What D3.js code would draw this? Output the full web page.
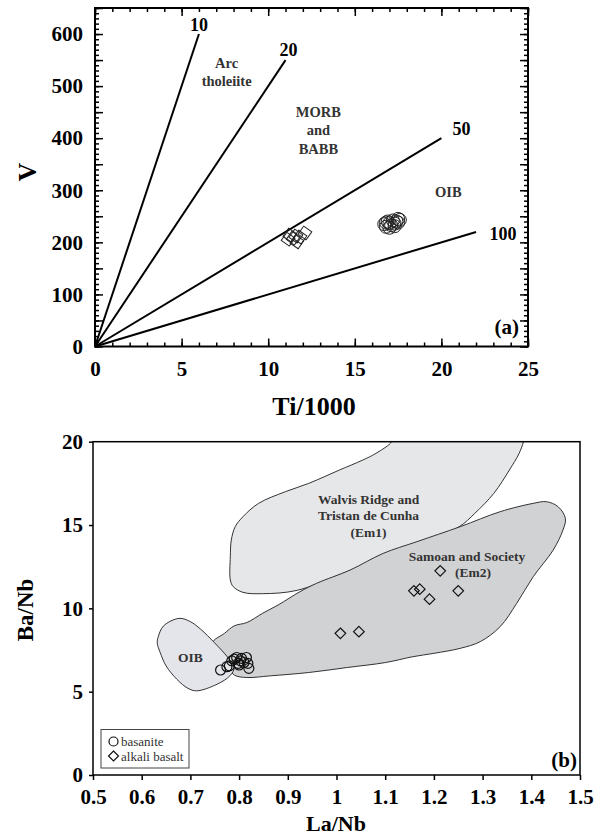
<!DOCTYPE html>
<html>
<head>
<meta charset="utf-8">
<script src="https://cdn.jsdelivr.net/npm/d3@7"></script>
<style>
  body { margin: 0; background: #fff; }
  svg, svg text { font-family: "Liberation Serif", "Times New Roman", serif; }
</style>
</head>
<body>
<div id="chart"></div>
<script>
// ---- data (a) V vs Ti/1000 ----
const ratioValues = [10, 20, 50, 100];      // Ti/V
const ratioEndTi = [6, 11, 20, 22];          // where each line stops
const basaniteTi = [16.7, 16.8, 16.9, 17.0, 17.1, 17.2, 17.3, 17.4, 17.5, 17.6, 17.0, 17.3, 16.8, 17.5];
const basaniteV  = [235, 230, 240, 237, 233, 242, 236, 240, 245, 243, 228, 231, 238, 238];
const alkaliTi = [11.15, 11.44, 11.83, 12.12, 11.66, 11.25, 11.6];
const alkaliV  = [206, 208, 210, 218, 201, 214, 212];

// ---- data (b) Ba/Nb vs La/Nb ----
const basaniteLaNb = [0.762, 0.775, 0.780, 0.785, 0.790, 0.795, 0.798, 0.800, 0.803, 0.805, 0.810, 0.815, 0.818, 0.820];
const basaniteBaNb = [6.30, 6.50, 6.55, 6.85, 6.95, 7.05, 6.70, 6.60, 6.85, 7.00, 6.75, 7.05, 6.70, 6.40];
const alkaliLaNb = [1.008, 1.046, 1.159, 1.171, 1.191, 1.213, 1.250];
const alkaliBaNb = [8.50, 8.60, 11.05, 11.15, 10.55, 12.25, 11.05];

const em1Outline = [[1.113, 20.3], [1.113, 20.0], [1.081, 19.3], [1.054, 18.9], [1.006, 18.3], [0.943, 17.5],
  [0.895, 17.0], [0.840, 16.3], [0.808, 15.5], [0.792, 14.9], [0.784, 14.1], [0.782, 13.1], [0.782, 11.7],
  [0.788, 11.3], [0.808, 10.96], [0.848, 10.88], [0.919, 11.08], [1.022, 12.2], [1.181, 14.0], [1.252, 14.9],
  [1.284, 15.7], [1.323, 16.9], [1.355, 18.3], [1.375, 19.3], [1.384, 20.0], [1.386, 20.3]];
const em2Outline = [[0.745, 7.9], [0.770, 8.5], [0.790, 8.95], [0.816, 9.15], [0.848, 9.7], [0.880, 10.2],
  [0.925, 11.0], [0.959, 11.5], [1.028, 12.3], [1.096, 13.3], [1.165, 14.0], [1.254, 14.9], [1.336, 15.8],
  [1.404, 16.3], [1.431, 16.4], [1.455, 16.1], [1.470, 15.4], [1.465, 14.7], [1.445, 13.5], [1.404, 11.9],
  [1.370, 10.3], [1.336, 8.9], [1.295, 8.0], [1.254, 7.6], [1.200, 7.3], [1.157, 7.1], [1.101, 6.75],
  [1.022, 6.45], [0.943, 6.15], [0.864, 5.95], [0.816, 5.85], [0.790, 6.0], [0.775, 6.6]];
const oibOutline = [[0.634, 8.3], [0.645, 8.95], [0.677, 9.4], [0.700, 9.2], [0.721, 8.75], [0.749, 7.95],
  [0.777, 7.05], [0.790, 6.45], [0.781, 5.95], [0.755, 5.45], [0.713, 5.05], [0.695, 5.2], [0.672, 5.75],
  [0.650, 6.55], [0.638, 7.35], [0.632, 7.9]];

const xTicksA = [0, 5, 10, 15, 20, 25];
const yTicksA = [0, 100, 200, 300, 400, 500, 600];
const xTicksB = [0.5, 0.6, 0.7, 0.8, 0.9, 1.0, 1.1, 1.2, 1.3, 1.4, 1.5];
const yTicksB = [0, 5, 10, 15, 20];

const W = 606, H = 836;
const FONT = '"Liberation Serif", "Times New Roman", serif';
const svg = d3.select("#chart").append("svg")
  .attr("width", W).attr("height", H);

// diamond path
const diamond = r => `M0,${-r}L${r},0L0,${r}L${-r},0Z`;

// =================== panel (a) ===================
const xA = d3.scaleLinear().domain([0, 25]).range([95, 528]);
const yA = d3.scaleLinear().domain([0, 650]).range([346.5, 8]);
const gA = svg.append("g");

function styleAxis(g, size) {
  g.attr("font-family", FONT);
  g.select(".domain").remove();
  g.selectAll("line").attr("stroke", "#000").attr("stroke-width", 1.5);
  g.selectAll("text").attr("font-family", FONT).attr("font-size", size)
    .attr("font-weight", "bold").attr("fill", "#000");
}

// minor ticks, all four sides, pointing inward
gA.append("g").attr("transform", `translate(0,${yA(0)})`)
  .call(d3.axisBottom(xA).tickValues(d3.range(0, 26, 1)).tickSize(-4).tickFormat(""))
  .call(g => styleAxis(g, 0));
gA.append("g").attr("transform", `translate(0,${yA(650)})`)
  .call(d3.axisTop(xA).tickValues(d3.range(0, 26, 1)).tickSize(-4).tickFormat(""))
  .call(g => styleAxis(g, 0));
gA.append("g").attr("transform", `translate(0,${yA(0)})`)
  .call(d3.axisBottom(xA).tickValues(xTicksA).tickSize(-8).tickPadding(15))
  .call(g => styleAxis(g, 21));
gA.append("g").attr("transform", `translate(0,${yA(650)})`)
  .call(d3.axisTop(xA).tickValues(xTicksA).tickSize(-8).tickFormat(""))
  .call(g => styleAxis(g, 0));

gA.append("g").attr("transform", `translate(${xA(0)},0)`)
  .call(d3.axisLeft(yA).tickValues(d3.range(0, 651, 10)).tickSize(-4).tickFormat(""))
  .call(g => styleAxis(g, 0));
gA.append("g").attr("transform", `translate(${xA(25)},0)`)
  .call(d3.axisRight(yA).tickValues(d3.range(0, 651, 10)).tickSize(-4).tickFormat(""))
  .call(g => styleAxis(g, 0));
gA.append("g").attr("transform", `translate(${xA(0)},0)`)
  .call(d3.axisLeft(yA).tickValues(d3.range(0, 651, 50)).tickSize(-8).tickFormat(""))
  .call(g => styleAxis(g, 0));
gA.append("g").attr("transform", `translate(${xA(25)},0)`)
  .call(d3.axisRight(yA).tickValues(d3.range(0, 651, 50)).tickSize(-8).tickFormat(""))
  .call(g => styleAxis(g, 0));
gA.append("g").attr("transform", `translate(${xA(0)},0)`)
  .call(d3.axisLeft(yA).tickValues(yTicksA).tickSize(0).tickPadding(12))
  .call(g => styleAxis(g, 21));

gA.append("rect")
  .attr("x", xA(0)).attr("y", yA(650))
  .attr("width", xA(25) - xA(0)).attr("height", yA(0) - yA(650))
  .attr("fill", "none").attr("stroke", "#000").attr("stroke-width", 2);

// Ti/V ratio lines
gA.selectAll(".ratio").data(ratioValues).join("line")
  .attr("x1", xA(0)).attr("y1", yA(0))
  .attr("x2", (d, i) => xA(ratioEndTi[i]))
  .attr("y2", (d, i) => yA(ratioEndTi[i] * 1000 / d))
  .attr("stroke", "#000").attr("stroke-width", 2);

const ratioLabelOffset = [[0, -9], [3, -10], [20, -9], [27, 2]];
gA.selectAll(".rlab").data(ratioValues).join("text")
  .attr("x", (d, i) => xA(ratioEndTi[i]) + ratioLabelOffset[i][0])
  .attr("y", (d, i) => yA(ratioEndTi[i] * 1000 / d) + ratioLabelOffset[i][1])
  .attr("text-anchor", "middle").attr("dy", "0.35em")
  .attr("font-size", 18).attr("font-weight", "bold")
  .text(d => d);

// field names
const fieldA = gA.append("g").attr("font-size", 14.5).attr("font-weight", "bold")
  .attr("fill", "#333").attr("text-anchor", "middle");
[["Arc", 7.6, 545], ["tholeiite", 7.6, 510],
 ["MORB", 12.9, 450], ["and", 12.9, 415], ["BABB", 12.9, 380],
 ["OIB", 20.4, 297]].forEach(([t, x, y]) => {
  fieldA.append("text").attr("x", xA(x)).attr("y", yA(y)).attr("dy", "0.35em").text(t);
});

gA.append("text").attr("x", 519).attr("y", 327).attr("dy", "0.35em")
  .attr("text-anchor", "end").attr("font-size", 21).attr("font-weight", "bold").text("(a)");

// markers
gA.selectAll(".dA").data(alkaliTi).join("path")
  .attr("transform", (d, i) => `translate(${xA(d)},${yA(alkaliV[i])}) rotate(-10)`)
  .attr("d", diamond(7)).attr("fill", "none").attr("stroke", "#222").attr("stroke-width", 1);
gA.selectAll(".cA").data(basaniteTi).join("circle")
  .attr("cx", d => xA(d)).attr("cy", (d, i) => yA(basaniteV[i])).attr("r", 6.5)
  .attr("fill", "none").attr("stroke", "#222").attr("stroke-width", 1);

// axis titles
gA.append("text").attr("x", 314).attr("y", 406).attr("dy", "0.35em")
  .attr("text-anchor", "middle").attr("font-size", 26).attr("font-weight", "bold").text("Ti/1000");
gA.append("text").attr("transform", "translate(27,172) rotate(-90)").attr("dy", "0.35em")
  .attr("text-anchor", "middle").attr("font-size", 26).attr("font-weight", "bold").text("V");

// =================== panel (b) ===================
const xB = d3.scaleLinear().domain([0.5, 1.5]).range([93, 580]);
const yB = d3.scaleLinear().domain([0, 20]).range([775, 441.7]);
const gB = svg.append("g");

gB.append("clipPath").attr("id", "clipB").append("rect")
  .attr("x", xB(0.5)).attr("y", yB(20))
  .attr("width", xB(1.5) - xB(0.5)).attr("height", yB(0) - yB(20));

const area = d3.line().x(d => xB(d[0])).y(d => yB(d[1])).curve(d3.curveCatmullRomClosed.alpha(0.5));
const fields = gB.append("g").attr("clip-path", "url(#clipB)");
fields.append("path").attr("d", area(em1Outline)).attr("fill", "#e6e7e8").attr("stroke", "#333").attr("stroke-width", 1);
fields.append("path").attr("d", area(em2Outline)).attr("fill", "#d1d2d4").attr("stroke", "#333").attr("stroke-width", 1);
fields.append("path").attr("d", area(oibOutline)).attr("fill", "#e3e5eb").attr("stroke", "#333").attr("stroke-width", 1);

gB.append("rect")
  .attr("x", xB(0.5)).attr("y", yB(20))
  .attr("width", xB(1.5) - xB(0.5)).attr("height", yB(0) - yB(20))
  .attr("fill", "none").attr("stroke", "#000").attr("stroke-width", 1.5);

gB.append("g").attr("transform", `translate(0,${yB(0)})`)
  .call(d3.axisBottom(xB).tickValues(xTicksB).tickSize(5).tickPadding(9).tickFormat(d => +d.toFixed(1)))
  .call(g => styleAxis(g, 21));
gB.append("g").attr("transform", `translate(${xB(0.5)},0)`)
  .call(d3.axisLeft(yB).tickValues(yTicksB).tickSize(4).tickPadding(6))
  .call(g => styleAxis(g, 21));

const fieldB = gB.append("g").attr("font-size", 13.5).attr("font-weight", "bold")
  .attr("fill", "#333").attr("text-anchor", "middle");
[["Walvis Ridge and", 368.6, 499.3], ["Tristan de Cunha", 368.6, 515.7], ["(Em1)", 368.6, 532.3],
 ["Samoan and Society", 467, 556.7], ["(Em2)", 473, 572.7], ["OIB", 190.5, 657.5]]
  .forEach(([t, x, y]) => {
    fieldB.append("text").attr("x", x).attr("y", y).attr("dy", "0.35em").text(t);
  });

gB.selectAll(".cB").data(basaniteLaNb).join("circle")
  .attr("cx", d => xB(d)).attr("cy", (d, i) => yB(basaniteBaNb[i])).attr("r", 5)
  .attr("fill", "none").attr("stroke", "#111").attr("stroke-width", 1.2);
gB.selectAll(".dB").data(alkaliLaNb).join("path")
  .attr("transform", (d, i) => `translate(${xB(d)},${yB(alkaliBaNb[i])})`)
  .attr("d", diamond(5.3)).attr("fill", "none").attr("stroke", "#111").attr("stroke-width", 1.2);

gB.append("text").attr("x", 577).attr("y", 760).attr("dy", "0.35em")
  .attr("text-anchor", "end").attr("font-size", 21).attr("font-weight", "bold").text("(b)");

// legend
const legend = gB.append("g");
legend.append("rect").attr("x", 101).attr("y", 729.5).attr("width", 88).attr("height", 38.5)
  .attr("fill", "#fff").attr("stroke", "#444").attr("stroke-width", 1);
legend.append("circle").attr("cx", 113.5).attr("cy", 741.5).attr("r", 4.5)
  .attr("fill", "none").attr("stroke", "#111").attr("stroke-width", 1.2);
legend.append("path").attr("transform", "translate(113.5,756)").attr("d", diamond(5))
  .attr("fill", "none").attr("stroke", "#111").attr("stroke-width", 1.2);
legend.selectAll(".lt").data(["basanite", "alkali basalt"]).join("text")
  .attr("x", 121).attr("y", (d, i) => 741.5 + i * 14.5).attr("dy", "0.35em")
  .attr("font-size", 13).attr("fill", "#333").text(d => d);

gB.append("text").attr("x", 336).attr("y", 823).attr("dy", "0.35em")
  .attr("text-anchor", "middle").attr("font-size", 22).attr("font-weight", "bold").text("La/Nb");
gB.append("text").attr("transform", "translate(25,610) rotate(-90)").attr("dy", "0.35em")
  .attr("text-anchor", "middle").attr("font-size", 23).attr("font-weight", "bold").text("Ba/Nb");
</script>
</body>
</html>
